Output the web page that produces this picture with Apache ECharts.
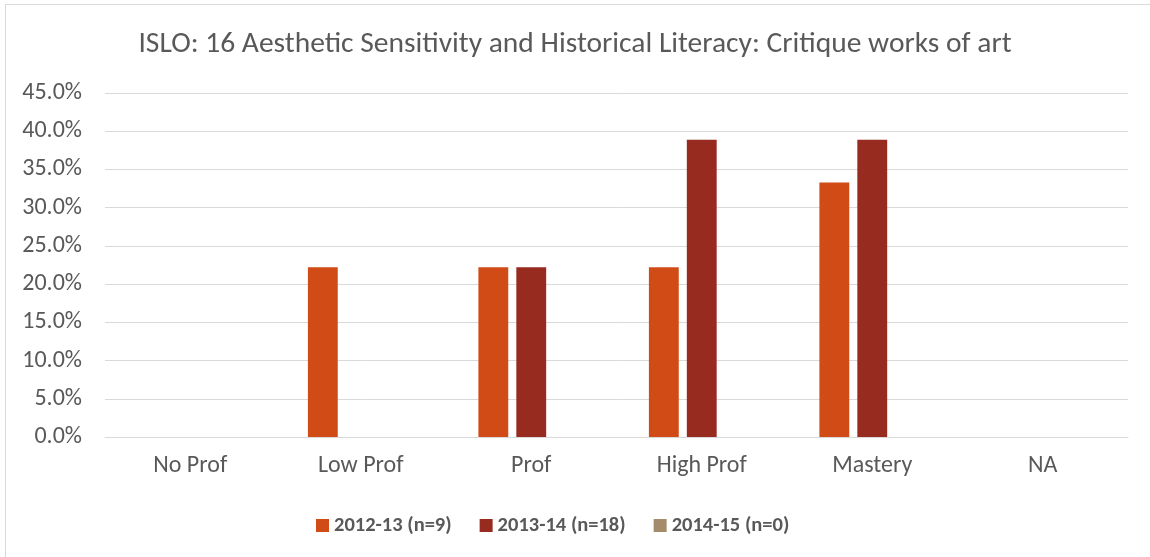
<!DOCTYPE html>
<html>
<head>
<meta charset="utf-8">
<script src="https://cdn.jsdelivr.net/npm/echarts@6/dist/echarts.min.js"></script>
<style>
html,body{margin:0;padding:0;background:#fff;}
#frame{position:absolute;left:5px;top:4px;width:1160px;height:570px;border:1px solid #d9d9d9;box-sizing:border-box;}
#chart{position:absolute;left:0;top:0;width:1150px;height:557px;}
</style>
</head>
<body>
<div id="frame"></div>
<div id="chart"></div>
<script>
const categories = ['No Prof', 'Low Prof', 'Prof', 'High Prof', 'Mastery', 'NA'];
const s2012 = [0, 22.2, 22.2, 22.2, 33.3, 0];
const s2013 = [0, 0, 22.2, 38.9, 38.9, 0];
const s2014 = [0, 0, 0, 0, 0, 0];
const seriesNames = ['2012-13 (n=9)', '2013-14 (n=18)', '2014-15 (n=0)'];
const titleText = 'ISLO: 16 Aesthetic Sensitivity and Historical Literacy: Critique works of art';

const font = 'Carlito, Calibri, "Open Sans", sans-serif';
const chart = echarts.init(document.getElementById('chart'), null, {renderer: 'canvas'});
chart.setOption({
  animation: false,
  backgroundColor: 'transparent',
  title: {
    text: titleText, left: 'center', top: 25,
    textStyle: {fontFamily: font, fontSize: 29.5, fontWeight: 'normal', color: '#595959'}
  },
  legend: {
    top: 510, left: 311, itemWidth: 13, itemHeight: 13, itemGap: 28,
    icon: 'rect',
    textStyle: {fontFamily: font, fontSize: 20.5, fontWeight: 'bold', color: '#595959'},
    data: seriesNames
  },
  grid: {left: 105, right: 22, top: 93, bottom: 120},
  xAxis: {
    type: 'category', data: categories,
    axisLine: {show: true, lineStyle: {color: '#d9d9d9'}},
    axisTick: {show: false},
    axisLabel: {fontFamily: font, fontSize: 24, color: '#595959', margin: 17}
  },
  yAxis: {
    type: 'value', min: 0, max: 45, interval: 5,
    axisLine: {show: false}, axisTick: {show: false},
    splitLine: {lineStyle: {color: '#d9d9d9', width: 1}},
    axisLabel: {fontFamily: font, fontSize: 24, color: '#595959', margin: 23,
      formatter: v => v.toFixed(1) + '%'}
  },
  series: [
    {name: seriesNames[0], type: 'bar', data: s2012, barGap: '27%', barCategoryGap: '38%', itemStyle: {color: '#D14B17'}},
    {name: seriesNames[1], type: 'bar', data: s2013, itemStyle: {color: '#982B1F'}},
    {name: seriesNames[2], type: 'bar', data: s2014, itemStyle: {color: '#A48C6A'}}
  ]
});
</script>
</body>
</html>
